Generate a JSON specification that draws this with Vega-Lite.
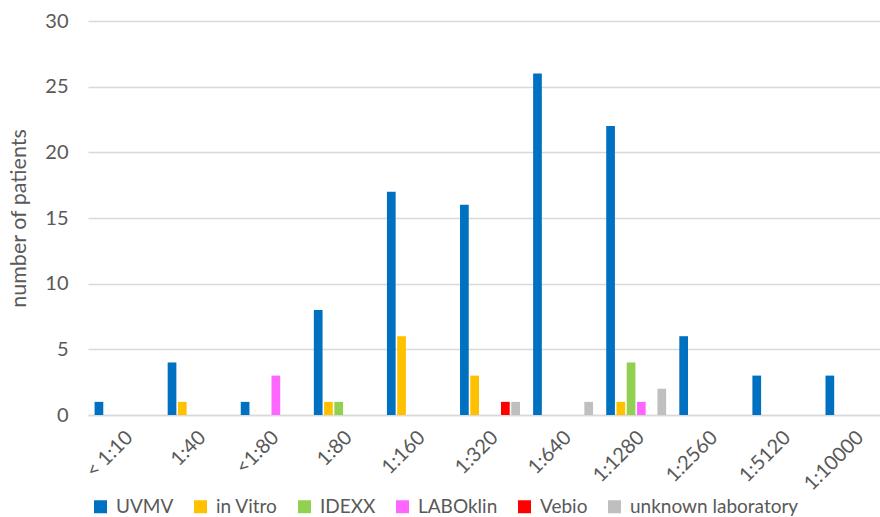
{
  "$schema": "https://vega.github.io/schema/vega-lite/v6.json",
  "autosize": {"type": "none"},
  "padding": {"left": 88, "top": 21, "right": 0, "bottom": 102},
  "width": 792,
  "height": 394,
  "background": "white",
  "config": {
    "font": "Lato",
    "view": {"stroke": null}
  },
  "data": {
    "values": [
      {"titer": "< 1:10", "lab": "UVMV", "patients": 1},
      {"titer": "1:40", "lab": "UVMV", "patients": 4},
      {"titer": "1:40", "lab": "in Vitro", "patients": 1},
      {"titer": "<1:80", "lab": "UVMV", "patients": 1},
      {"titer": "<1:80", "lab": "LABOklin", "patients": 3},
      {"titer": "1:80", "lab": "UVMV", "patients": 8},
      {"titer": "1:80", "lab": "in Vitro", "patients": 1},
      {"titer": "1:80", "lab": "IDEXX", "patients": 1},
      {"titer": "1:160", "lab": "UVMV", "patients": 17},
      {"titer": "1:160", "lab": "in Vitro", "patients": 6},
      {"titer": "1:320", "lab": "UVMV", "patients": 16},
      {"titer": "1:320", "lab": "in Vitro", "patients": 3},
      {"titer": "1:320", "lab": "Vebio", "patients": 1},
      {"titer": "1:320", "lab": "unknown laboratory", "patients": 1},
      {"titer": "1:640", "lab": "UVMV", "patients": 26},
      {"titer": "1:640", "lab": "unknown laboratory", "patients": 1},
      {"titer": "1:1280", "lab": "UVMV", "patients": 22},
      {"titer": "1:1280", "lab": "in Vitro", "patients": 1},
      {"titer": "1:1280", "lab": "IDEXX", "patients": 4},
      {"titer": "1:1280", "lab": "LABOklin", "patients": 1},
      {"titer": "1:1280", "lab": "unknown laboratory", "patients": 2},
      {"titer": "1:2560", "lab": "UVMV", "patients": 6},
      {"titer": "1:5120", "lab": "UVMV", "patients": 3},
      {"titer": "1:10000", "lab": "UVMV", "patients": 3}
    ]
  },
  "mark": {"type": "bar"},
  "encoding": {
    "x": {
      "field": "titer",
      "type": "nominal",
      "sort": ["< 1:10", "1:40", "<1:80", "1:80", "1:160", "1:320", "1:640", "1:1280", "1:2560", "1:5120", "1:10000"],
      "scale": {"range": [0, 804], "paddingInner": 0.18, "paddingOuter": 0.09},
      "axis": {
        "title": null,
        "labelAngle": -45,
        "labelFontSize": 20,
        "labelColor": "#595959",
        "labelPadding": 12,
        "labelOffset": -2,
        "ticks": false,
        "domainColor": "#D9D9D9",
        "domainWidth": 1.5,
        "grid": false
      }
    },
    "xOffset": {
      "field": "lab",
      "type": "nominal",
      "scale": {
        "domain": ["UVMV", "in Vitro", "IDEXX", "LABOklin", "Vebio", "unknown laboratory"],
        "paddingInner": 0.15,
        "paddingOuter": 0
      }
    },
    "y": {
      "field": "patients",
      "type": "quantitative",
      "scale": {"domain": [0, 30], "nice": false},
      "axis": {
        "title": "number of patients",
        "titleFontSize": 21.5,
        "titleFontWeight": "normal",
        "titleColor": "#595959",
        "titlePadding": 14,
        "values": [0, 5, 10, 15, 20, 25, 30],
        "labelFontSize": 20,
        "labelColor": "#595959",
        "labelPadding": 20,
        "ticks": false,
        "domain": false,
        "gridColor": "#D9D9D9",
        "gridWidth": 1.5
      }
    },
    "color": {
      "field": "lab",
      "type": "nominal",
      "scale": {
        "domain": ["UVMV", "in Vitro", "IDEXX", "LABOklin", "Vebio", "unknown laboratory"],
        "range": ["#0070C0", "#FFC000", "#92D050", "#FF66FF", "#FF0000", "#BFBFBF"]
      },
      "legend": {
        "title": null,
        "orient": "none",
        "legendX": 3,
        "legendY": 476,
        "direction": "horizontal",
        "symbolType": "square",
        "symbolSize": 169,
        "symbolStrokeWidth": 0,
        "labelFontSize": 19,
        "labelColor": "#595959",
        "labelOffset": 6,
        "labelLimit": 300,
        "columnPadding": 17
      }
    }
  }
}
